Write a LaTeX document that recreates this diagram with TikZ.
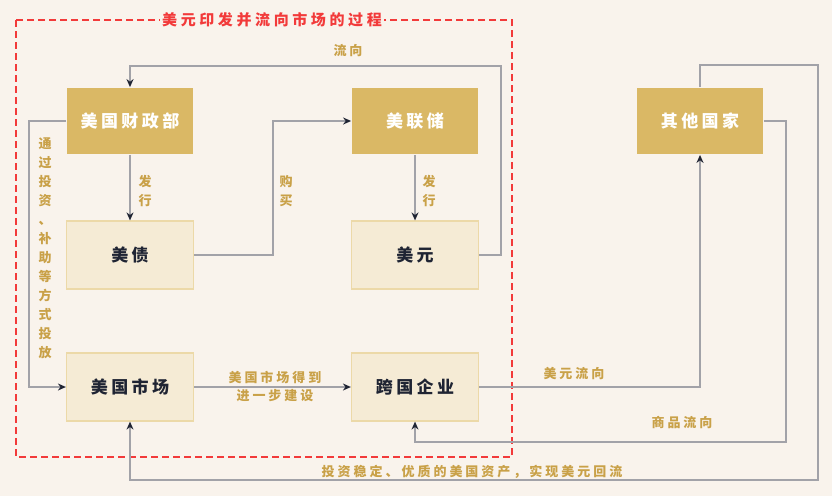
\documentclass[tikz,border=0pt]{standalone}
\usepackage{fontspec}
\usepackage{tikz}
\usetikzlibrary{arrows.meta}
\newfontfamily\boxfont[LetterSpace=20]{Noto Sans CJK SC}
\newfontfamily\lblfont[LetterSpace=23]{Noto Sans CJK SC}
\newfontfamily\titlefont[LetterSpace=24]{Noto Sans CJK SC}
\definecolor{bgcol}{HTML}{F9F3EC}
\definecolor{darkgold}{HTML}{DAB865}
\definecolor{lightfill}{HTML}{F5EBD5}
\definecolor{lightline}{HTML}{ECD9A8}
\definecolor{inkcol}{HTML}{1F2433}
\definecolor{goldtext}{HTML}{C9A148}
\definecolor{linecol}{HTML}{A2A2A8}
\definecolor{framered}{HTML}{F23A3A}

\begin{document}
\begin{tikzpicture}[x=1pt,y=-1pt,->,>={Stealth[length=8pt,width=7pt,color=inkcol]},
        line width=1.8pt,color=linecol,node distance=285pt,
        dark node/.style={rectangle,fill=darkgold,draw=none,minimum width=126pt,minimum height=66pt,
          text=white,font=\boxfont\bfseries\fontsize{17}{19}\selectfont},
        light node/.style={rectangle,fill=lightfill,draw=lightline,line width=1.2pt,minimum width=127pt,minimum height=68pt,
          text=inkcol,font=\boxfont\bfseries\fontsize{17}{19}\selectfont},
        lbl/.style={text=goldtext,inner sep=0pt,align=center,font=\lblfont\bfseries\fontsize{13}{19}\selectfont}]

      \fill[bgcol] (0,0) rectangle (832,496);
      \useasboundingbox (0,0) rectangle (832,496);

      \node[dark node] (mof) at (130,121) {美国财政部};
      \node[dark node] (fed) [right of=mof] {美联储};
      \node[dark node] (other) [right of=fed] {其他国家};
      \node[light node] (debt) [below of=mof,node distance=134pt] {美债};
      \node[light node] (usd) [below of=fed,node distance=134pt] {美元};
      \node[light node] (mkt) [below of=debt,node distance=132pt] {美国市场};
      \node[light node] (corp) [below of=usd,node distance=132pt] {跨国企业};

      % frame round the first part
      \draw[-,framered,line width=1.5pt,dash pattern=on 7pt off 4pt] (16,20) rectangle (512,457);
      \node[fill=bgcol,text=framered,inner sep=2pt,font=\titlefont\bfseries\fontsize{15}{17}\selectfont]
        (title) at (272,20) {美元印发并流向市场的过程};

      \draw (mof) -- (debt);
      \draw (fed) -- (usd);
      \draw (debt.east) -- ++(79,0) |- (fed.west);
      \draw (usd.east) -- ++(22,0) -- ++(0,-189) -| (mof.north);
      \draw (mof.west) -- ++(-37,0) |- (mkt.west);
      \draw (mkt) -- (corp);
      \draw (corp.east) -| (other.south);
      \draw (other.east) -- ++(22,0) -- ++(0,321) -| (corp.south);
      \draw (other.north) -- ++(0,-22) -- ++(118,0) -- ++(0,415) -| (mkt.south);

      \node[lbl] (l1) at (145,191) {发\\行};
      \node[lbl] (l2) at (429,191) {发\\行};
      \node[lbl] (l3) at (286,191) {购\\买};
      \node[lbl] (l4) at (348,51) {流向};
      \node[lbl] (l5) at (45,248) {通\\过\\投\\资\\、\\补\\助\\等\\方\\式\\投\\放};
      \node[lbl] (l6) at (275,377) {美国市场得到};
      \node[lbl] (l7) at (275,396) {进一步建设};
      \node[lbl] (l8) at (574,374) {美元流向};
      \node[lbl] (l9) at (682,423) {商品流向};
      \node[lbl] (l10) at (472,472) {投资稳定、优质的美国资产，实现美元回流};
      \end{tikzpicture}
\end{document}
